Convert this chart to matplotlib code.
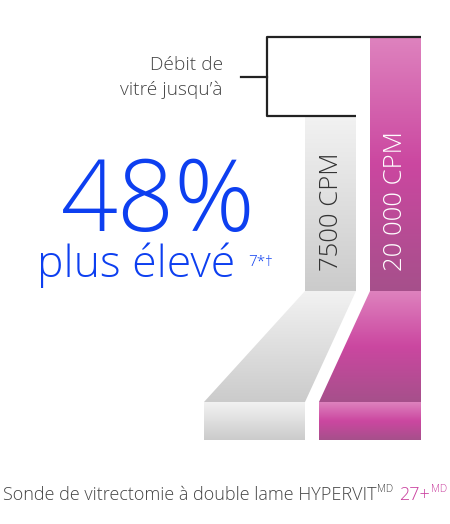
import numpy as np
import matplotlib
matplotlib.use('agg')
import matplotlib.pyplot as plt
from matplotlib.patches import Polygon
from matplotlib.colors import LinearSegmentedColormap

# data
speeds = ['7500 CPM', '20 000 CPM']
speed_vals = [7500, 20000]
pct_gain = 48
headline_sub = 'plus élevé'
note = '7*†'
bracket_lbl = 'Débit de\nvitré jusqu\u2019à'
product = 'Sonde de vitrectomie à double lame HYPERVIT'
product_model = '27+'

FONT = 'Open Sans'
BLUE = '#0d3ff0'
PINK = '#c93f9e'

fig = plt.figure(figsize=(4.5, 5.24), dpi=100)
ax = fig.add_axes([0, 0, 1, 1])
ax.set_xlim(0, 450)
ax.set_ylim(524, 0)
ax.axis('off')

gray_cm = LinearSegmentedColormap.from_list('g', ['#f2f2f2', '#cbcbcb'])
pink_cm = LinearSegmentedColormap.from_list('p', ['#de82be', '#cb47a0', '#a6508b'])


def grad_poly(pts, cmap, ytop, ybot):
    poly = Polygon(pts, closed=True, fc='none', ec='none')
    ax.add_patch(poly)
    xs = [p[0] for p in pts]
    g = np.linspace(0, 1, 256).reshape(-1, 1)
    im = ax.imshow(g, cmap=cmap, aspect='auto', interpolation='bilinear',
                   extent=(min(xs), max(xs), ybot, ytop), zorder=1)
    im.set_clip_path(poly)


# vertical bars (top y, x-left, x-right)
bar_tops = [116, 38]
bar_x = [(305, 356), (370, 421)]
cmaps = [gray_cm, pink_cm]
bar_bot = 291
for (x0, x1), top, cm in zip(bar_x, bar_tops, cmaps):
    grad_poly([(x0, top), (x1, top), (x1, bar_bot), (x0, bar_bot)], cm, top, bar_bot)

# slanted parts and base blocks
base_top, base_bot = 402, 440
slants = [[(305, 291), (356, 291), (305, 402), (204, 402)],
          [(370, 291), (421, 291), (421, 402), (319, 402)]]
bases = [(204, 305), (319, 421)]
for pts, (b0, b1), cm in zip(slants, bases, cmaps):
    grad_poly(pts, cm, 291, 402)
    grad_poly([(b0, base_top), (b1, base_top), (b1, base_bot), (b0, base_bot)],
              cm, base_top, base_bot)

# bracket
ax.plot([421, 267, 267, 356], [37, 37, 116, 116], color='#222222', lw=1.6,
        solid_capstyle='butt', zorder=3)
ax.plot([241, 267], [77, 77], color='#222222', lw=1.6, zorder=3)
ax.text(223, 70, 'Débit de', ha='right', va='baseline', fontsize=13.8,
        color='#444444', family=FONT, fontweight='light')
ax.text(223, 95, 'vitré jusqu\u2019à', ha='right', va='baseline', fontsize=13.8,
        color='#444444', family=FONT, fontweight='light')

# labels inside bars
ax.text(331, 271, speeds[0], rotation=90, ha='center', va='bottom',
        fontsize=18.5, color='#333333', family=FONT, fontweight='light', zorder=4)
ax.text(396, 271, speeds[1], rotation=90, ha='center', va='bottom',
        fontsize=18.5, color='white', family=FONT, fontweight='light', zorder=4)

# headline
ax.text(158, 231, f'{pct_gain}%', ha='center', va='baseline', fontsize=72,
        color=BLUE, family=FONT, fontweight='light')
ax.text(37, 277, headline_sub, ha='left', va='baseline', fontsize=32,
        color=BLUE, family=FONT, fontweight='light')
ax.text(248, 266, note, ha='left', va='baseline', fontsize=11,
        color=BLUE, family=FONT, fontweight='light')

# footer
t = ax.text(3, 500, product, ha='left', va='baseline', fontsize=13,
            color='#444444', family=FONT, fontweight='light')
fig.canvas.draw()
bb = t.get_window_extent()
x_end = ax.transData.inverted().transform((bb.x1, 0))[0]
ax.text(x_end + 1, 492, 'MD', ha='left', va='baseline', fontsize=7.5,
        color='#444444', family=FONT, fontweight='light')
ax.text(399, 500, product_model, ha='left', va='baseline', fontsize=13,
        color=PINK, family=FONT, fontweight='light')
ax.text(431, 492, 'MD', ha='left', va='baseline', fontsize=7.5,
        color=PINK, family=FONT, fontweight='light')

fig.savefig('out.png', dpi=100, facecolor='white')
